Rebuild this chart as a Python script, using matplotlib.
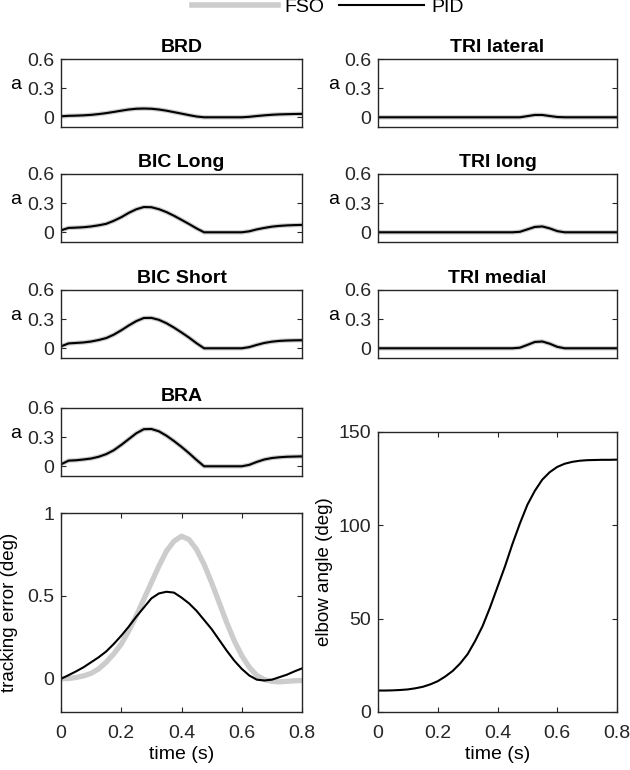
import numpy as np
import matplotlib
matplotlib.use("Agg")
import matplotlib.pyplot as plt
from matplotlib.lines import Line2D

plt.rcParams["font.family"] = ["Liberation Sans", "DejaVu Sans"]
plt.rcParams["font.size"] = 14

# time base (s)
t = [0.0, 0.025, 0.05, 0.075, 0.1, 0.125, 0.15, 0.175, 0.2, 0.225, 0.25, 0.275,
     0.3, 0.325, 0.35, 0.375, 0.4, 0.425, 0.45, 0.475, 0.5, 0.525, 0.55, 0.575,
     0.6, 0.625, 0.65, 0.675, 0.7, 0.725, 0.75, 0.775, 0.8]

# muscle activations (FSO and PID overlap almost exactly)
brd = [0.01, 0.015, 0.017, 0.02, 0.025, 0.033, 0.043, 0.055, 0.068, 0.08, 0.088, 0.09,
       0.088, 0.08, 0.068, 0.053, 0.038, 0.022, 0.008, 0.0, 0.0, 0.0, 0.0, 0.0,
       0.0, 0.005, 0.013, 0.02, 0.026, 0.03, 0.032, 0.034, 0.035]
bic_long = [0.02, 0.045, 0.048, 0.052, 0.06, 0.072, 0.087, 0.118, 0.155, 0.2, 0.237, 0.26,
            0.258, 0.238, 0.208, 0.17, 0.128, 0.085, 0.04, 0.0, 0.0, 0.0, 0.0, 0.0,
            0.0, 0.01, 0.03, 0.045, 0.058, 0.066, 0.071, 0.074, 0.076]
bic_short = [0.02, 0.05, 0.055, 0.06, 0.07, 0.085, 0.105, 0.14, 0.185, 0.235, 0.28, 0.312,
             0.313, 0.293, 0.258, 0.213, 0.163, 0.11, 0.052, 0.0, 0.0, 0.0, 0.0, 0.0,
             0.0, 0.012, 0.035, 0.055, 0.068, 0.076, 0.08, 0.082, 0.083]
bra = [0.02, 0.058, 0.062, 0.07, 0.08, 0.098, 0.125, 0.165, 0.22, 0.28, 0.34, 0.382,
       0.384, 0.36, 0.315, 0.26, 0.2, 0.135, 0.065, 0.0, 0.0, 0.0, 0.0, 0.0,
       0.0, 0.015, 0.045, 0.07, 0.085, 0.093, 0.098, 0.1, 0.102]
tri_lat = [0.0] * 19 + [0.0, 0.012, 0.024, 0.024, 0.013, 0.003] + [0.0] * 8
tri_long = [0.0] * 19 + [0.005, 0.03, 0.055, 0.06, 0.04, 0.012] + [0.0] * 8
tri_med = [0.0] * 19 + [0.006, 0.035, 0.065, 0.07, 0.047, 0.015] + [0.0] * 8

# tracking error (deg)
err_fso = [0.0, 0.002, 0.008, 0.018, 0.033, 0.06, 0.1, 0.15, 0.21, 0.29, 0.38, 0.48,
           0.58, 0.68, 0.77, 0.83, 0.86, 0.84, 0.78, 0.69, 0.58, 0.46, 0.34, 0.23,
           0.14, 0.07, 0.02, -0.005, -0.015, -0.018, -0.015, -0.012, -0.01]
err_pid = [0.0, 0.022, 0.045, 0.07, 0.1, 0.13, 0.165, 0.21, 0.26, 0.315, 0.375, 0.43,
           0.485, 0.515, 0.525, 0.52, 0.49, 0.455, 0.41, 0.355, 0.3, 0.235, 0.17, 0.11,
           0.06, 0.02, -0.005, -0.01, -0.005, 0.01, 0.025, 0.045, 0.063]

# elbow angle (deg)
elbow = [11.5, 11.5, 11.6, 11.8, 12.1, 12.7, 13.5, 14.8, 16.5, 19, 22, 26,
         31, 38, 46, 56, 67, 78, 90, 101, 111, 118.5, 124.5, 128.5,
         131.3, 133, 134, 134.6, 134.9, 135, 135.1, 135.1, 135.2]

left_titles = ["BRD", "BIC Long", "BIC Short", "BRA"]
left_data = [brd, bic_long, bic_short, bra]
right_titles = ["TRI lateral", "TRI long", "TRI medial"]
right_data = [tri_lat, tri_long, tri_med]

W, H = 630, 770
GRAY = "#cccccc"
FRAME = "#262626"

fig = plt.figure(figsize=(W / 100, H / 100), dpi=100)

def px_axes(x0, x1, y0, y1):
    return fig.add_axes([x0 / W, 1 - y1 / H, (x1 - x0) / W, (y1 - y0) / H])

def style(ax):
    for s in ax.spines.values():
        s.set_color(FRAME)
        s.set_linewidth(1.0)
    ax.tick_params(direction="in", length=3.5, width=0.8, color=FRAME,
                   top=True, right=True, pad=5, labelcolor="#262626")

def small_panel(ax, title, vals):
    ax.plot(t, vals, color=GRAY, lw=3.2, solid_capstyle="round")
    ax.plot(t, vals, color="black", lw=1.5)
    ax.set_xlim(0, 0.8)
    ax.set_ylim(-0.1, 0.6)
    ax.set_yticks([0, 0.3, 0.6])
    ax.set_yticklabels(["0", "0.3", "0.6"])
    ax.set_xticks([])
    style(ax)
    ax.set_title(title, fontweight="bold", fontsize=14, pad=5)
    ax.set_ylabel("a", rotation=0, va="center", ha="center")
    ax.yaxis.set_label_coords(-0.187, 0.62)

tops = [59, 174, 290, 408]
for i, (ttl, d) in enumerate(zip(left_titles, left_data)):
    ax = px_axes(61, 302, tops[i], tops[i] + 68)
    small_panel(ax, ttl, d)
for i, (ttl, d) in enumerate(zip(right_titles, right_data)):
    ax = px_axes(378, 617, tops[i], tops[i] + 68)
    small_panel(ax, ttl, d)

# tracking error
ax = px_axes(61, 302, 513, 712)
ax.plot(t, err_fso, color=GRAY, lw=3.8)
ax.plot(t, err_pid, color="black", lw=1.5)
ax.set_xlim(0, 0.8)
ax.set_ylim(-0.2, 1)
ax.set_yticks([0, 0.5, 1])
ax.set_yticklabels(["0", "0.5", "1"])
ax.set_xticks([0, 0.2, 0.4, 0.6, 0.8])
ax.set_xticklabels(["0", "0.2", "0.4", "0.6", "0.8"])
style(ax)
ax.tick_params(axis="x", pad=9)
ax.set_ylabel("tracking error (deg)", fontsize=13.5)
ax.yaxis.set_label_coords(-0.178, 0.5)
ax.set_xlabel("time (s)", labelpad=3)

# elbow angle
ax = px_axes(378, 617, 432, 712)
ax.plot(t, elbow, color="black", lw=1.5)
ax.set_xlim(0, 0.8)
ax.set_ylim(0, 150)
ax.set_yticks([0, 50, 100, 150])
ax.set_xticks([0, 0.2, 0.4, 0.6, 0.8])
ax.set_xticklabels(["0", "0.2", "0.4", "0.6", "0.8"])
style(ax)
ax.tick_params(axis="x", pad=9)
ax.set_ylabel("elbow angle (deg)", fontsize=13.5)
ax.yaxis.set_label_coords(-0.19, 0.5)
ax.set_xlabel("time (s)", labelpad=3)

handles = [Line2D([], [], color=GRAY, lw=4), Line2D([], [], color="black", lw=1.5)]
fig.legend(handles, ["FSO", "PID"], loc="center", bbox_to_anchor=(328 / W, 1 - 7 / H),
           ncol=2, frameon=False, handlelength=4.4, handletextpad=0.36,
           columnspacing=0.72, borderpad=0, borderaxespad=0)

fig.savefig("out.png", dpi=100)
